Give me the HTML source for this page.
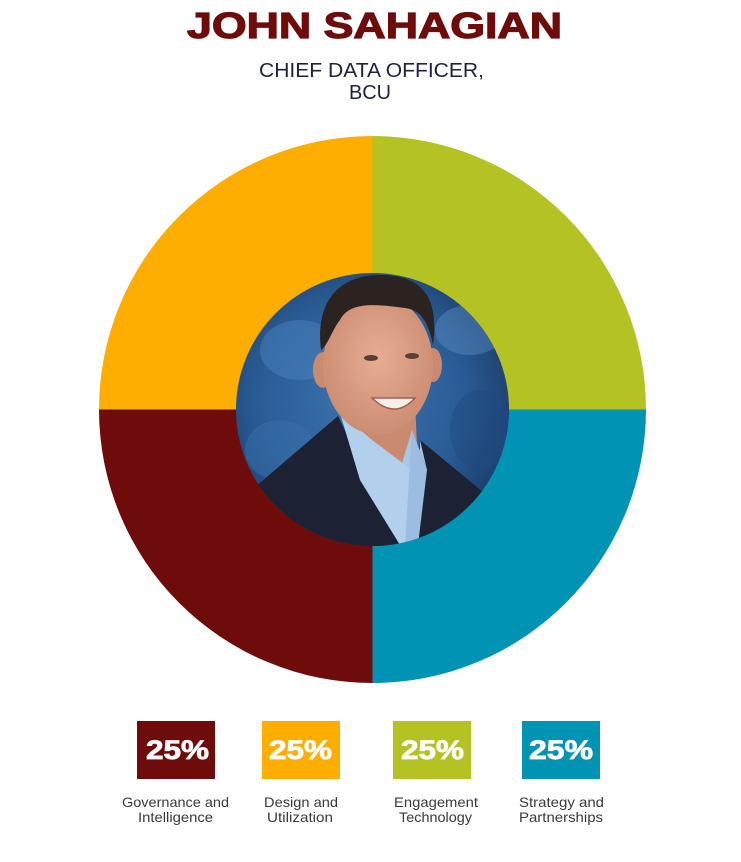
<!DOCTYPE html>
<html><head><meta charset="utf-8"><style>
html,body{margin:0;padding:0;background:#fff;}
svg{display:block;}
</style></head><body>
<svg width="741" height="862" viewBox="0 0 741 862" xmlns="http://www.w3.org/2000/svg">
<defs>
<clipPath id="pc"><circle cx="372.5" cy="409.5" r="136.5"/></clipPath>
<radialGradient id="bg" cx="0.45" cy="0.45" r="0.6">
<stop offset="0" stop-color="#3d74b0"/>
<stop offset="0.6" stop-color="#2a5b95"/>
<stop offset="1" stop-color="#173660"/>
</radialGradient>
<radialGradient id="face" cx="0.5" cy="0.45" r="0.6">
<stop offset="0" stop-color="#e6ad92"/>
<stop offset="1" stop-color="#c98a70"/>
</radialGradient>
</defs>
<text x="187" y="38" font-family="Liberation Sans, Arial, sans-serif" font-weight="bold" font-size="36" fill="#6e0b0b" stroke="#6e0b0b" stroke-width="1.2" textLength="375" lengthAdjust="spacingAndGlyphs">JOHN SAHAGIAN</text>
<text x="259" y="77" font-family="Liberation Sans, Arial, sans-serif" font-size="20" fill="#1b2340" textLength="225" lengthAdjust="spacingAndGlyphs">CHIEF DATA OFFICER,</text>
<text x="349" y="99" font-family="Liberation Sans, Arial, sans-serif" font-size="20" fill="#1b2340" textLength="42" lengthAdjust="spacingAndGlyphs">BCU</text>

<path d="M372.5,409.5 L372.5,136 A273.5,273.5 0 0 1 646,409.5 Z" fill="#b4c224"/>
<path d="M372.5,409.5 L646,409.5 A273.5,273.5 0 0 1 372.5,683 Z" fill="#0093b4"/>
<path d="M372.5,409.5 L372.5,683 A273.5,273.5 0 0 1 99,409.5 Z" fill="#6e0b0b"/>
<path d="M372.5,409.5 L99,409.5 A273.5,273.5 0 0 1 372.5,136 Z" fill="#fdae00"/>

<g clip-path="url(#pc)">
<rect x="230" y="270" width="290" height="290" fill="url(#bg)"/>
<ellipse cx="300" cy="350" rx="40" ry="30" fill="#4a82bd" opacity="0.5"/>
<ellipse cx="470" cy="330" rx="35" ry="25" fill="#5a8fc4" opacity="0.45"/>
<ellipse cx="280" cy="450" rx="35" ry="30" fill="#3a70ac" opacity="0.5"/>
<ellipse cx="480" cy="430" rx="30" ry="40" fill="#1f4a80" opacity="0.5"/>
<!-- neck -->
<path d="M345,400 L415,400 L418,470 L350,470 Z" fill="#c98a70"/>
<!-- suit -->
<path d="M240,500 L338,416 L400,545 L405,560 L230,560 Z" fill="#1c2233"/>
<path d="M520,520 L478,488 L420,440 L405,545 L405,560 L520,560 Z" fill="#1c2233"/>
<!-- shirt -->
<path d="M340,413 L372,440 L400,470 L412,430 L427,470 L420,440 L418,545 L400,545 Z" fill="#a8c6e6"/>
<path d="M340,413 L360,480 L400,545 L412,545 L412,470 L372,440 Z" fill="#b2cfeb"/>
<path d="M412,430 L427,470 L418,545 L405,545 Z" fill="#9dbde0"/>
<!-- ears -->
<ellipse cx="323" cy="370" rx="10" ry="18" fill="#c98a70"/>
<ellipse cx="433" cy="365" rx="9" ry="17" fill="#c98a70"/>
<!-- face -->
<ellipse cx="378" cy="365" rx="55" ry="70" fill="url(#face)"/>
<!-- hair -->
<path d="M321,350 C315,300 340,275 380,275 C420,275 440,295 433,345 C428,320 420,310 405,308 C380,305 350,300 340,320 C332,330 328,345 321,350 Z" fill="#2b2320"/>
<!-- eyes -->
<ellipse cx="371" cy="358" rx="7" ry="3" fill="#5a3f33"/>
<ellipse cx="412" cy="356" rx="7" ry="3" fill="#5a3f33"/>
<!-- smile -->
<path d="M372,398 Q395,420 415,398 Z" fill="#f5f0ea" stroke="#a85a50" stroke-width="1.5"/>
</g>

<rect x="137" y="721" width="78" height="58" fill="#6e0b0b"/>
<rect x="262" y="721" width="78" height="58" fill="#fdae00"/>
<rect x="393" y="721" width="78" height="58" fill="#b4c224"/>
<rect x="522" y="721" width="78" height="58" fill="#0093b4"/>
<g font-family="Liberation Sans, Arial, sans-serif" font-weight="bold" font-size="27" fill="#fff" stroke="#fff" stroke-width="0.8">
<text x="146" y="759" textLength="63" lengthAdjust="spacingAndGlyphs">25%</text>
<text x="269" y="759" textLength="63" lengthAdjust="spacingAndGlyphs">25%</text>
<text x="401" y="759" textLength="63" lengthAdjust="spacingAndGlyphs">25%</text>
<text x="529" y="759" textLength="64" lengthAdjust="spacingAndGlyphs">25%</text>
</g>
<g font-family="Liberation Sans, Arial, sans-serif" font-size="14" fill="#3a3a3a">
<text x="122" y="807" textLength="107" lengthAdjust="spacingAndGlyphs">Governance and</text>
<text x="138" y="822" textLength="75" lengthAdjust="spacingAndGlyphs">Intelligence</text>
<text x="264" y="807" textLength="74" lengthAdjust="spacingAndGlyphs">Design and</text>
<text x="267" y="822" textLength="66" lengthAdjust="spacingAndGlyphs">Utilization</text>
<text x="394" y="807" textLength="84" lengthAdjust="spacingAndGlyphs">Engagement</text>
<text x="399" y="822" textLength="73" lengthAdjust="spacingAndGlyphs">Technology</text>
<text x="519" y="807" textLength="85" lengthAdjust="spacingAndGlyphs">Strategy and</text>
<text x="519" y="822" textLength="84" lengthAdjust="spacingAndGlyphs">Partnerships</text>
</g>
</svg>
</body></html>
